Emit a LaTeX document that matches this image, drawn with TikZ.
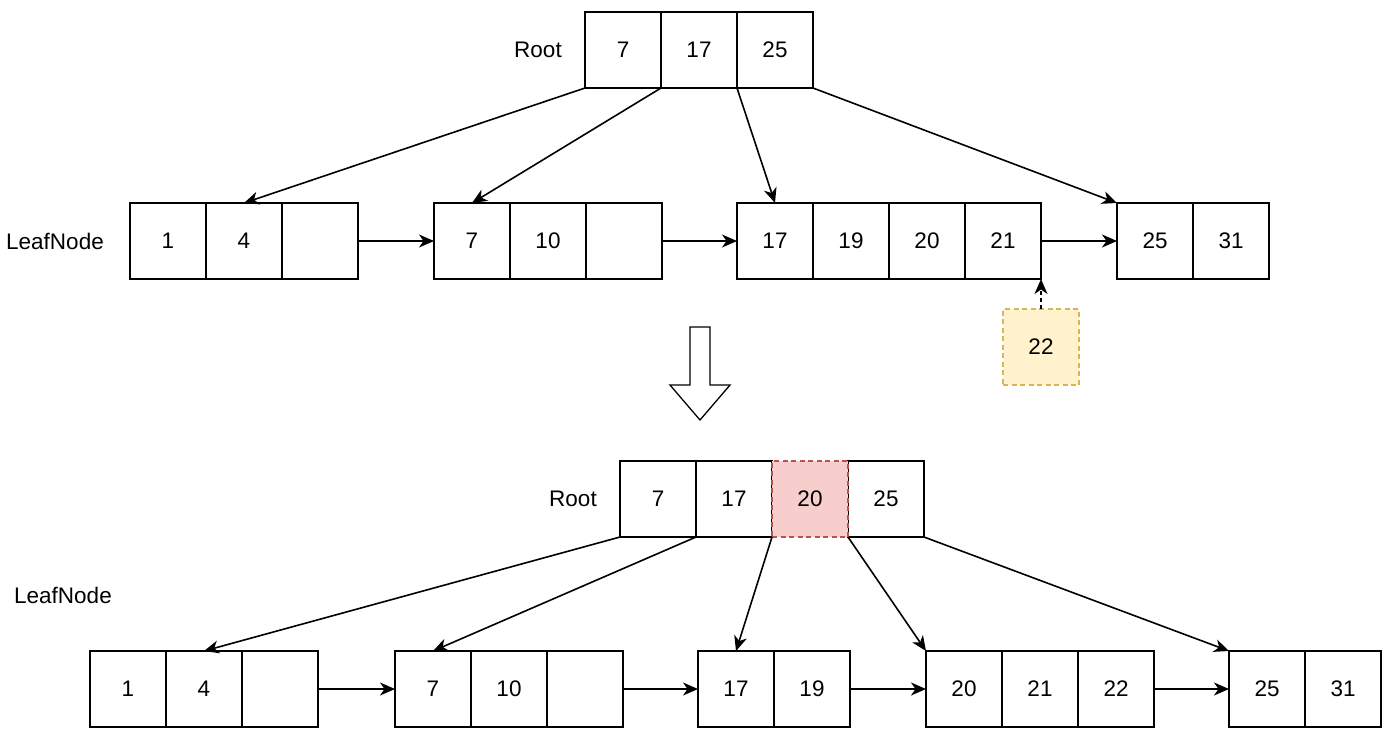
\documentclass[tikz,border=0pt]{standalone}
\usepackage{fontspec}
\setmainfont{Liberation Sans}
\usetikzlibrary{arrows.meta}
\definecolor{yelfill}{HTML}{FFF2CC}
\definecolor{yelline}{HTML}{D6B656}
\definecolor{redfill}{HTML}{F8CECC}
\definecolor{redline}{HTML}{B85450}
\begin{document}
\begin{tikzpicture}[x=1pt,y=-1pt,
  every node/.style={font=\fontsize{22.5}{26}\selectfont},
  cell/.style={draw=black,line width=1.6pt,minimum width=76pt,minimum height=76pt,inner sep=0pt,outer sep=0pt},
  newcell/.style={cell,draw=yelline,fill=yelfill,dash pattern=on 5pt off 3.5pt},
  hotcell/.style={cell,draw=redline,fill=redfill,dash pattern=on 5pt off 3.5pt},
  lbl/.style={inner sep=0pt},
  link/.style={line width=1.6pt,-{Stealth[length=15pt,width=13pt,inset=4.5pt]}},
  dlink/.style={link,dash pattern=on 4pt off 3pt}]
\useasboundingbox (0,0) rectangle (1392,740);

% ---------- top tree ----------
\node[lbl] (rootlabA) at (538,50) {Root};
\node[cell] (r1) at (623,50) {7};
\node[cell] (r2) at (699,50) {17};
\node[cell] (r3) at (775,50) {25};

\node[lbl] (leaflabA) at (55,241) {LeafNode};
\node[cell] (a1) at (168,241) {1};
\node[cell] (a2) at (244,241) {4};
\node[cell] (a3) at (320,241) {};
\node[cell] (b1) at (472,241) {7};
\node[cell] (b2) at (548,241) {10};
\node[cell] (b3) at (624,241) {};
\node[cell] (c1) at (775,241) {17};
\node[cell] (c2) at (851,241) {19};
\node[cell] (c3) at (927,241) {20};
\node[cell] (c4) at (1003,241) {21};
\node[cell] (d1) at (1155,241) {25};
\node[cell] (d2) at (1231,241) {31};

\node[newcell] (ins) at (1041,347) {22};

\draw[link] (r1.south west) -- (a2.north);
\draw[link] (r2.south west) -- (b1.north);
\draw[link] (r3.south west) -- (c1.north);
\draw[link] (r3.south east) -- (d1.north west);
\draw[link] (a3.east) -- (b1.west);
\draw[link] (b3.east) -- (c1.west);
\draw[link] (c4.east) -- (d1.west);
\draw[dlink] (ins.north) -- (c4.south east);

% ---------- transition arrow ----------
\draw[line width=1.3pt,fill=white] (690,327) -- (710,327) -- (710,385) -- (730,385)
  -- (700,420) -- (670,385) -- (690,385) -- cycle;

% ---------- bottom tree ----------
\node[lbl] (rootlabB) at (573,499) {Root};
\node[cell] (s1) at (658,499) {7};
\node[cell] (s2) at (734,499) {17};
\node[cell] (s4) at (886,499) {25};
\node[hotcell] (s3) at (810,499) {20};

\node[lbl] (leaflabB) at (63,595) {LeafNode};
\node[cell] (e1) at (128,689) {1};
\node[cell] (e2) at (204,689) {4};
\node[cell] (e3) at (280,689) {};
\node[cell] (f1) at (433,689) {7};
\node[cell] (f2) at (509,689) {10};
\node[cell] (f3) at (585,689) {};
\node[cell] (g1) at (736,689) {17};
\node[cell] (g2) at (812,689) {19};
\node[cell] (h1) at (964,689) {20};
\node[cell] (h2) at (1040,689) {21};
\node[cell] (h3) at (1116,689) {22};
\node[cell] (k1) at (1267,689) {25};
\node[cell] (k2) at (1343,689) {31};

\draw[link] (s1.south west) -- (e2.north);
\draw[link] (s2.south west) -- (f1.north);
\draw[link] (s3.south west) -- (g1.north);
\draw[link] (s3.south east) -- (h1.north west);
\draw[link] (s4.south east) -- (k1.north west);
\draw[link] (e3.east) -- (f1.west);
\draw[link] (f3.east) -- (g1.west);
\draw[link] (g2.east) -- (h1.west);
\draw[link] (h3.east) -- (k1.west);
\end{tikzpicture}
\end{document}
